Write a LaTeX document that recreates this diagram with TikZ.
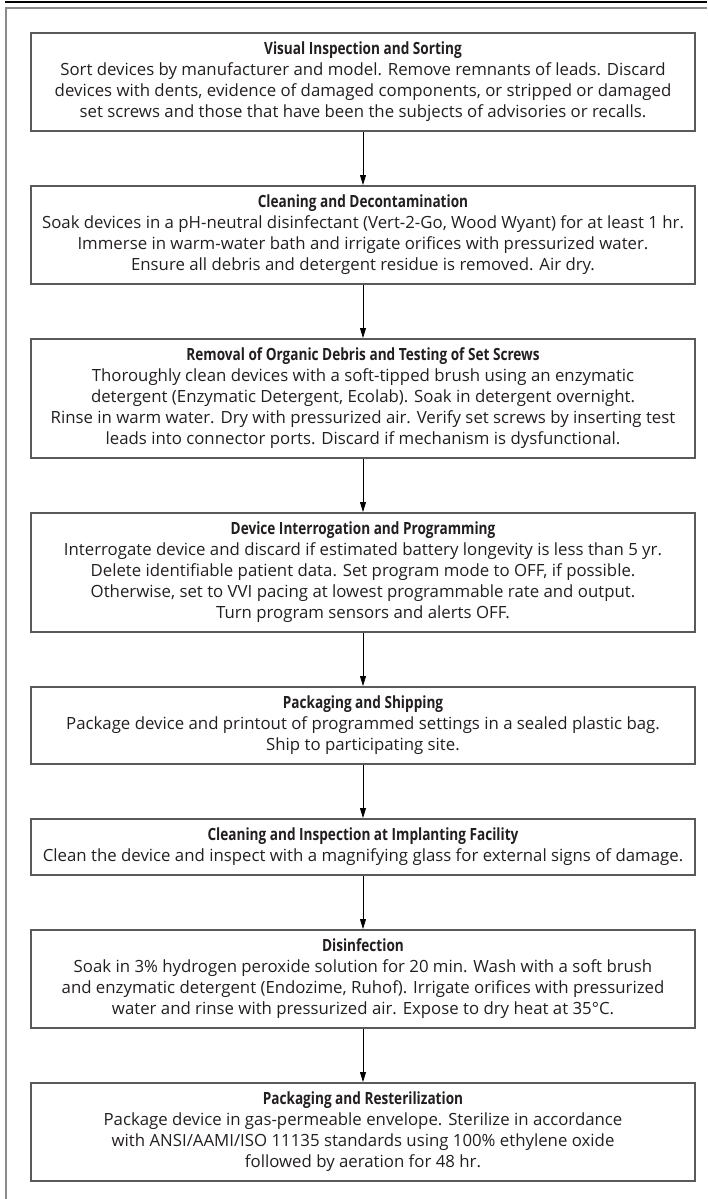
\documentclass[tikz,border=0pt]{standalone}
\usepackage{fontspec}
\setmainfont{Open Sans}
\usetikzlibrary{arrows.meta}
\definecolor{boxgray}{HTML}{5A5A5A}
\definecolor{framegray}{HTML}{8A8A8A}
\definecolor{txt}{HTML}{231F20}
\newcommand\steptitle[1]{\scalebox{0.81}[1]{\bfseries #1}}
\begin{document}
\begin{tikzpicture}[x=1pt,y=-1pt,
  stepbox/.style={draw=boxgray, line width=1.6pt, minimum width=664pt, align=center, anchor=north, inner sep=0pt, font=\fontsize{16.8}{21}\selectfont, text=txt},
  flow/.style={draw=black, line width=0.8pt, -{Triangle[length=10pt,width=6pt]}}]
\useasboundingbox (0,0) rectangle (707,1199);
\draw[black, line width=1.5pt] (5,2) -- (707,2);
\draw[framegray, line width=2pt] (707,8) -- (6,8) -- (6,1199);
\node[stepbox, minimum height=98pt] (b1) at (363,32) {\steptitle{Visual Inspection and Sorting}\\
Sort devices by manufacturer and model. Remove remnants of leads. Discard\\
devices with dents, evidence of damaged components, or stripped or damaged\\
set screws and those that have been the subjects of advisories or recalls.};
\node[stepbox, minimum height=98pt] (b2) at (363,185) {\steptitle{Cleaning and Decontamination}\\
Soak devices in a pH-neutral disinfectant (Vert-2-Go, Wood Wyant) for at least 1 hr.\\
Immerse in warm-water bath and irrigate orifices with pressurized water.\\
Ensure all debris and detergent residue is removed. Air dry.};
\node[stepbox, minimum height=119pt] (b3) at (363,338) {\steptitle{Removal of Organic Debris and Testing of Set Screws}\\
Thoroughly clean devices with a soft-tipped brush using an enzymatic\\
detergent (Enzymatic Detergent, Ecolab). Soak in detergent overnight.\\
Rinse in warm water. Dry with pressurized air. Verify set screws by inserting test\\
leads into connector ports. Discard if mechanism is dysfunctional.};
\node[stepbox, minimum height=119pt] (b4) at (363,512) {\steptitle{Device Interrogation and Programming}\\
Interrogate device and discard if estimated battery longevity is less than 5 yr.\\
Delete identifiable patient data. Set program mode to OFF, if possible.\\
Otherwise, set to VVI pacing at lowest programmable rate and output.\\
Turn program sensors and alerts OFF.};
\node[stepbox, minimum height=77pt] (b5) at (363,686) {\steptitle{Packaging and Shipping}\\
Package device and printout of programmed settings in a sealed plastic bag.\\
Ship to participating site.};
\node[stepbox, minimum height=56pt] (b6) at (363,818) {\steptitle{Cleaning and Inspection at Implanting Facility}\\
Clean the device and inspect with a magnifying glass for external signs of damage.};
\node[stepbox, minimum height=98pt] (b7) at (363,929) {\steptitle{Disinfection}\\
Soak in 3\% hydrogen peroxide solution for 20 min. Wash with a soft brush\\
and enzymatic detergent (Endozime, Ruhof). Irrigate orifices with pressurized\\
water and rinse with pressurized air. Expose to dry heat at 35°C.};
\node[stepbox, minimum height=98pt] (b8) at (363,1082) {\steptitle{Packaging and Resterilization}\\
Package device in gas-permeable envelope. Sterilize in accordance\\
with ANSI/AAMI/ISO 11135 standards using 100\% ethylene oxide\\
followed by aeration for 48 hr.};
\foreach \a/\b in {b1/b2,b2/b3,b3/b4,b4/b5,b5/b6,b6/b7,b7/b8}
  \draw[flow] (\a.south) -- (\b.north);
\end{tikzpicture}
\end{document}
